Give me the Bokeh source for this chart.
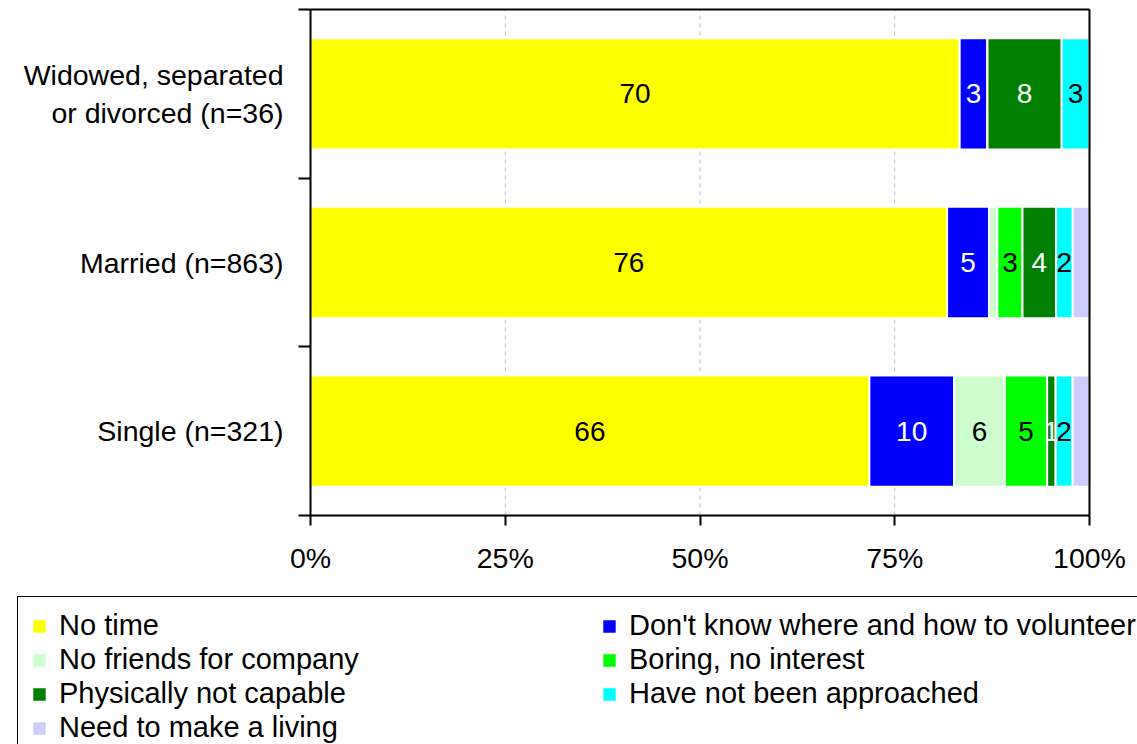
from bokeh.plotting import figure
from bokeh.models import Range1d, FixedTicker, Legend, LegendItem, ColumnDataSource, LinearAxis
from bokeh.core.properties import value
from bokeh.embed import file_html
from bokeh.resources import INLINE

# ---- data ----
groups = ["Single (n=321)", "Married (n=863)", "Widowed, separated\nor divorced (n=36)"]
reasons = ["No time", "Don't know where and how to volunteer", "No friends for company",
           "Boring, no interest", "Physically not capable", "Have not been approached",
           "Need to make a living"]
no_time = [66, 76, 70]
dont_know = [10, 5, 3]
no_friends = [6, 1, 0]
boring = [5, 3, 0]
physically = [1, 4, 8]
not_approached = [2, 2, 3]
need_living = [2, 2, 0]
# which segment values carry a printed label (Single, Married, Widowed)
show_no_time = [True, True, True]
show_dont_know = [True, True, True]
show_no_friends = [True, False, False]
show_boring = [True, True, False]
show_physically = [True, True, True]
show_not_approached = [True, True, True]
show_need_living = [False, False, False]
x_ticks = [0, 25, 50, 75, 100]
x_tick_labels = ["0%", "25%", "50%", "75%", "100%"]

series = [no_time, dont_know, no_friends, boring, physically, not_approached, need_living]
shows = [show_no_time, show_dont_know, show_no_friends, show_boring, show_physically,
         show_not_approached, show_need_living]
colors = ["#FFFF00", "#0000FF", "#CCFFCC", "#00FF00", "#008000", "#00FFFF", "#CCCCFF"]
text_colors = ["black", "white", "black", "black", "white", "black", "black"]

FONT = "Liberation Sans"

# ---- layout (pixels) ----
W, H = 1137, 744
PL, PR, PT, PB = 310, 1089, 9, 515          # plot box inside the canvas
X0, X1 = 0.0, 100.0
Y0, Y1 = 0.5, len(groups) + 0.5
xu = (X1 - X0) / (PR - PL)
yu = (Y1 - Y0) / (PB - PT)

p = figure(width=W, height=H, output_backend="svg", toolbar_location=None,
           x_range=Range1d(X0 - PL * xu, X1 + (W - PR) * xu),
           y_range=Range1d(Y0 - (H - PB) * yu, Y1 + PT * yu),
           x_axis_location=None, y_axis_location=None,
           min_border_left=0, min_border_right=0, min_border_top=0, min_border_bottom=0)
p.background_fill_color = "white"
p.border_fill_color = "white"
p.outline_line_color = None
p.xgrid.visible = False
p.ygrid.visible = False

# dashed vertical grid lines at inner ticks
inner = x_ticks[1:-1]
p.segment(x0=inner, x1=inner, y0=[Y0] * len(inner), y1=[Y1] * len(inner),
          line_color="#c0c0c0", line_dash="4 4", line_width=1)

ypos = [i + 1 for i in range(len(groups))]
totals = [sum(s[g] for s in series) for g in range(len(groups))]

renderers = []
left = [0.0] * len(groups)
label_x, label_y, label_t, label_c = [], [], [], []
for k, s in enumerate(series):
    pct = [s[g] / totals[g] * 100 for g in range(len(groups))]
    right = [left[g] + pct[g] for g in range(len(groups))]
    src = ColumnDataSource(dict(y=ypos, left=list(left), right=right))
    r = p.hbar(y="y", left="left", right="right", height=0.66, source=src,
               fill_color=colors[k], line_color="white", line_width=2)
    renderers.append(r)
    for g in range(len(groups)):
        if shows[k][g] and s[g] > 0:
            label_x.append((left[g] + right[g]) / 2)
            label_y.append(ypos[g])
            label_t.append(str(s[g]))
            label_c.append(text_colors[k])
    left = right

lab_src = ColumnDataSource(dict(x=label_x, y=label_y, t=label_t, c=label_c))
p.text(x="x", y="y", text="t", text_color="c", source=lab_src,
       text_align="center", text_baseline="middle",
       text_font=value(FONT), text_font_size="28px")

# x axis (bottom of the plot box)
xa = LinearAxis(fixed_location=Y0, bounds=(X0, X1), ticker=FixedTicker(ticks=x_ticks))
xa.major_label_overrides = {t: l for t, l in zip(x_ticks, x_tick_labels)}
xa.major_tick_out = 10
xa.major_tick_in = 0
xa.minor_tick_out = 0
xa.axis_line_width = 2
xa.major_tick_line_width = 2
xa.major_label_text_font = FONT
xa.major_label_text_font_size = "28.5px"
xa.major_label_text_color = "black"
xa.major_label_standoff = 16
p.add_layout(xa, "below")

# y axis (left of the plot box)
ya = LinearAxis(fixed_location=X0, bounds=(Y0, Y1),
                ticker=FixedTicker(ticks=ypos,
                                   minor_ticks=[y - 0.5 for y in ypos] + [ypos[-1] + 0.5]))
ya.major_label_overrides = {y: g for y, g in zip(ypos, groups)}
ya.major_tick_out = 0
ya.major_tick_in = 0
ya.minor_tick_out = 12
ya.minor_tick_in = 0
ya.minor_tick_line_color = "black"
ya.minor_tick_line_width = 2
ya.axis_line_width = 2
ya.major_label_text_font = FONT
ya.major_label_text_font_size = "28.5px"
ya.major_label_text_color = "black"
ya.major_label_standoff = 15
p.add_layout(ya, "left")

# top and right edges of the plot box
for loc, fixed, bnds in (("above", Y1, (X0, X1)), ("right", X1, (Y0, Y1))):
    ax = LinearAxis(fixed_location=fixed, bounds=bnds, ticker=FixedTicker(ticks=[]))
    ax.axis_line_width = 2
    ax.major_tick_out = 0
    ax.major_tick_in = 0
    ax.minor_tick_out = 0
    ax.minor_tick_in = 0
    ax.major_label_text_font_size = "0px"
    p.add_layout(ax, loc)

# legend below the chart
items = [LegendItem(label=reasons[k], renderers=[renderers[k]]) for k in range(len(reasons))]
legend = Legend(items=items, location=(17, -13), orientation="horizontal", ncols=2,
                padding=12, spacing=1, glyph_width=18, glyph_height=18, label_standoff=11,
                label_text_font=FONT, label_text_font_size="29px", label_height=30,
                label_width=540, label_text_color="black",
                border_line_color="black", border_line_width=1.5, border_line_alpha=1.0,
                background_fill_alpha=1.0)
p.add_layout(legend)

open("out.html", "w").write(file_html(p, INLINE))
